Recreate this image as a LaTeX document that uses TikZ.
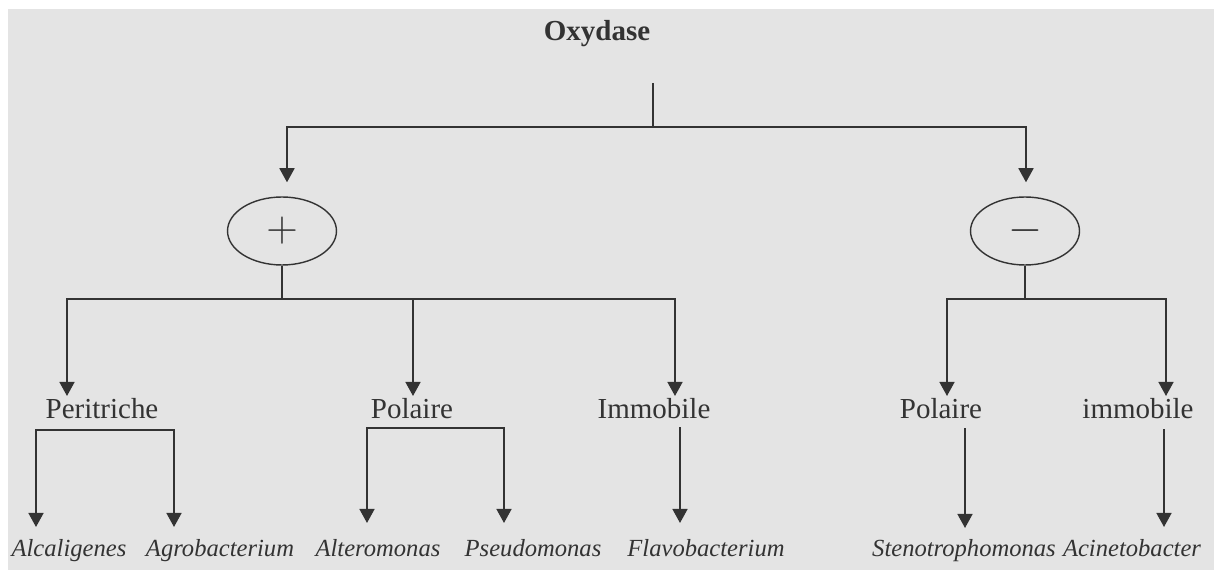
\documentclass[tikz,border=0pt]{standalone}
\usepackage{fontspec}
\setmainfont{Liberation Serif}
\usetikzlibrary{shapes.geometric,arrows.meta}

\definecolor{bggray}{HTML}{E4E4E4}
\definecolor{ink}{HTML}{333333}

\tikzset{
  conn/.style={draw=ink,line width=1.1pt},
  arr/.style={conn,-{Triangle[length=8pt,width=8.5pt]}},
  twoarr/.style={conn,{Triangle[length=8pt,width=8.5pt]}-{Triangle[length=8pt,width=8.5pt]}},
  sign/.style={ellipse,draw=ink,line width=0.8pt,minimum width=2.18cm,minimum height=1.36cm,
    inner sep=0pt,text=ink,font=\fontsize{24}{24}\selectfont},
  level/.style={anchor=base,inner sep=1pt,text=ink,font=\fontsize{16.5}{18}\selectfont},
  genus/.style={anchor=base,inner sep=1pt,text=ink,font=\fontsize{14}{16}\selectfont\itshape},
}

\begin{document}
\begin{tikzpicture}[x=0.02cm,y=-0.02cm]

  % Page and background
  \useasboundingbox (0,0) rectangle (1214,570);
  \fill[bggray] (8,9) rectangle (1214,570);

  % Test
  \node[level,font=\fontsize{16.5}{18}\selectfont\bfseries] (oxy) at (597,41) {Oxydase};

  % Result of the test
  \node[sign] (plus)  at (282,231) {$+$};
  \node[sign] (minus) at (1025,231) {$-$};

  % Flagella
  \node[level] (peri) at (102,419)  {Peritriche};
  \node[level] (polA) at (412,419)  {Polaire};
  \node[level] (immA) at (654,419)  {Immobile};
  \node[level] (polB) at (941,419)  {Polaire};
  \node[level] (immB) at (1138,419) {immobile};

  % Genera
  \node[genus] (alca) at (69,557)   {Alcaligenes};
  \node[genus] (agro) at (220,557)  {Agrobacterium};
  \node[genus] (alte) at (378,557)  {Alteromonas};
  \node[genus] (pseu) at (533,557)  {Pseudomonas};
  \node[genus] (flav) at (706,557)  {Flavobacterium};
  \node[genus] (sten) at (964,557)  {Stenotrophomonas};
  \node[genus] (acin) at (1132,557) {Acinetobacter};

  % Split under the test
  \coordinate (stem) at (653,83);
  \coordinate (fork) at (653,127);
  \draw[conn] (stem) -- (fork);
  \draw[arr] (fork) -| ([shift={(5,-14)}]plus.north);
  \draw[arr] (fork) -| ([shift={(1,-14)}]minus.north);

  % Ends of the arrows over the flagella
  \coordinate (inPeri) at (67,396);
  \coordinate (inPolA) at (413,396);
  \coordinate (inImmA) at (675,396);
  \coordinate (inPolB) at (947,396);
  \coordinate (inImmB) at (1166,396);

  % Oxydase +
  \draw[conn] (plus.south) -- ++(0,33) coordinate (plusBus);
  \draw[arr] (plusBus) -| (inPeri);
  \draw[arr] (plusBus) -| (inPolA);
  \draw[arr] (plusBus) -| (inImmA);

  % Oxydase -
  \draw[conn] (minus.south) -- ++(0,33) coordinate (minusBus);
  \draw[arr] (minusBus) -| (inPolB);
  \draw[arr] (minusBus) -| (inImmB);

  % Ends of the arrows over the genera
  \coordinate (outAlca) at (36,527);
  \coordinate (outAgro) at (174,527);
  \coordinate (outAlte) at (367,523);
  \coordinate (outPseu) at (504,523);
  \coordinate (outFlav) at (680,523);
  \coordinate (outSten) at (965,528);
  \coordinate (outAcin) at (1164,527);

  % From the flagella to the genera
  \coordinate (periBus) at ([yshift=-0.18cm]peri.south);
  \coordinate (polBus)  at ([yshift=-0.14cm]polA.south);
  \draw[twoarr] (outAlca) |- (periBus) -| (outAgro);
  \draw[twoarr] (outAlte) |- (polBus) -| (outPseu);
  \draw[arr,shorten <=0.12cm] (outFlav |- immA.south) -- (outFlav);
  \draw[arr,shorten <=0.14cm] (outSten |- polB.south) -- (outSten);
  \draw[arr,shorten <=0.16cm] (outAcin |- immB.south) -- (outAcin);

\end{tikzpicture}
\end{document}
